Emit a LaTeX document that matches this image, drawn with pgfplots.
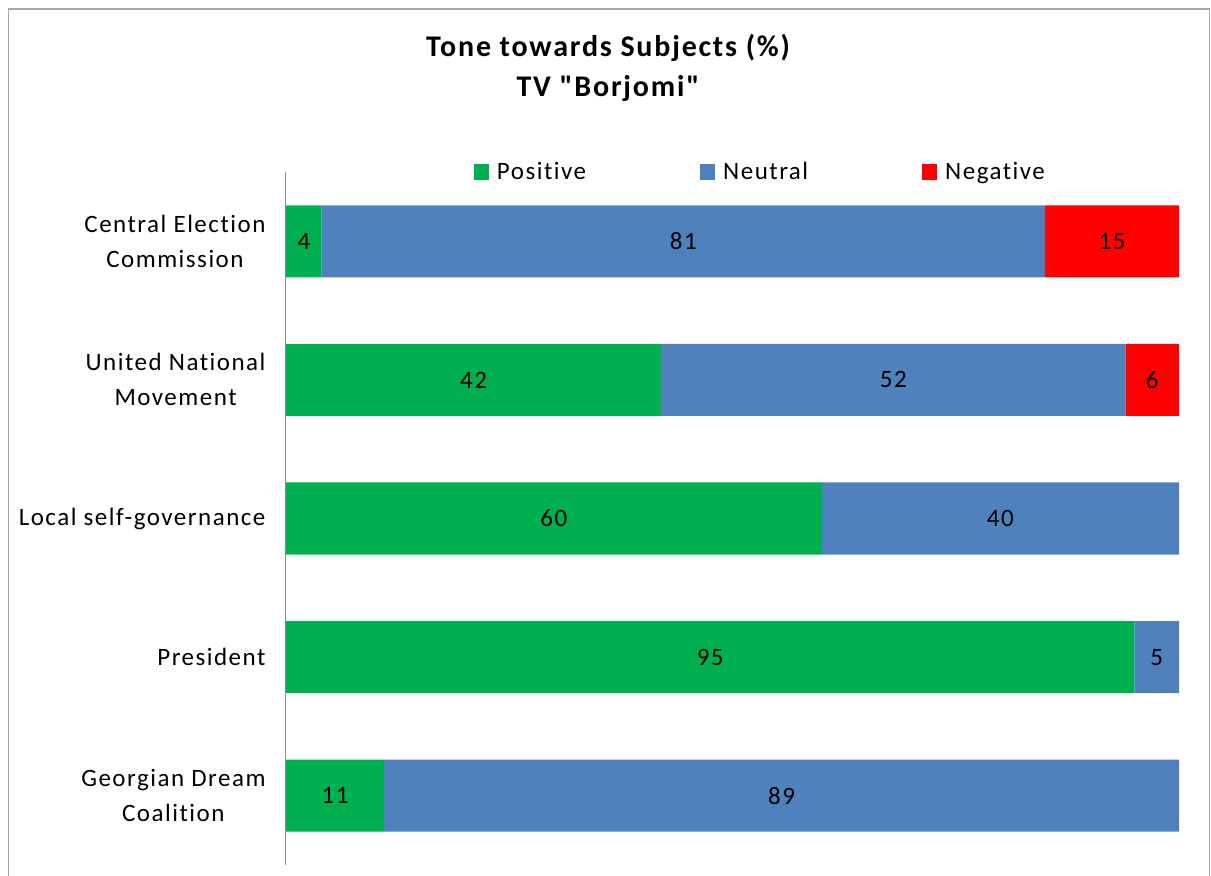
\documentclass[border=0pt]{standalone}
\usepackage{pgfplots}
\pgfplotsset{compat=1.18}
\usepackage{fontspec}
\setmainfont{Carlito}[LetterSpace=6, Ligatures={NoCommon}]
\definecolor{posc}{HTML}{00B050}
\definecolor{neuc}{HTML}{4F81BD}
\definecolor{negc}{HTML}{FF0000}
\pgfplotsset{
  common/.style={
    at={(286pt,11pt)}, anchor=south west,
    scale only axis, width=893pt, height=693pt,
    xmin=0, xmax=100, ymin=-0.5, ymax=4.5,
  }
}
\begin{document}
\begin{tikzpicture}[x=1pt,y=1pt]
\useasboundingbox (0,0) rectangle (1211,876);
\draw[black!35, line width=1.5pt] (8.5,-20) rectangle (1209.5,867);
\node[font=\bfseries\fontsize{30}{40}\selectfont, anchor=base] at (608,819) {Tone towards Subjects (\%)};
\node[font=\bfseries\fontsize{30}{40}\selectfont\addfontfeature{Ligatures=TeXOff}, anchor=base] at (608,779) {TV "Borjomi"};
\begin{axis}[
  common,
  xbar stacked, bar width=72pt,
  hide x axis,
  axis y line*=left,
  y axis line style={black!45, line width=1pt},
  ytick={0,1,2,3,4},
  yticklabels={Georgian Dream\\Coalition, President, Local self-governance, United National\\Movement, Central Election\\Commission},
  yticklabel style={align=center, font=\fontsize{25}{35}\selectfont, xshift=-17pt},
  major tick length=0pt,
  legend columns=3,
  legend style={at={(0.2105,1.0)}, anchor=west, draw=none, fill=none,
    inner sep=0pt, outer sep=0pt,
    font=\fontsize{25}{28}\selectfont,
    nodes={inner xsep=0pt, inner ysep=2pt},
    /tikz/every even column/.append style={column sep=114pt},
    /tikz/every odd column/.append style={column sep=8pt}},
  legend image code/.code={\fill[#1] (0pt,-7.5pt) rectangle (15pt,7.5pt);},
]
\addplot[fill=posc, draw=none] coordinates {(4,4) (42,3) (60,2) (95,1) (11,0)};
\addplot[fill=neuc, draw=none] coordinates {(81,4) (52,3) (40,2) (5,1) (89,0)};
\addplot[fill=negc, draw=none] coordinates {(15,4) (6,3) (0,2) (0,1) (0,0)};
\legend{Positive, Neutral, Negative}
\end{axis}
\begin{axis}[
  common, hide axis,
  point meta=explicit symbolic,
  nodes near coords,
  every node near coord/.append style={anchor=center, font=\fontsize{25}{28}\selectfont, text=black},
]
\addplot[draw=none, mark=none] coordinates {(2,4)[4] (21,3)[42] (30,2)[60] (47.5,1)[95] (5.5,0)[11]};
\addplot[draw=none, mark=none] coordinates {(44.5,4)[81] (68,3)[52] (80,2)[40] (97.5,1)[5] (55.5,0)[89]};
\addplot[draw=none, mark=none] coordinates {(92.5,4)[15] (97,3)[6]};
\end{axis}
\end{tikzpicture}
\end{document}
